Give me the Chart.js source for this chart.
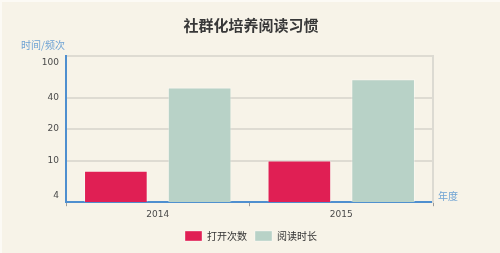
<!DOCTYPE html>
<html>
<head>
<meta charset="utf-8">
<script src="https://cdn.jsdelivr.net/npm/chart.js@4/dist/chart.umd.min.js"></script>
<style>
  html, body { margin: 0; padding: 0; background: #f7f3e8; }
  #wrap { position: relative; width: 500px; height: 253px; box-sizing: border-box;
          border-top: 2px solid #fcfaf5; border-left: 2px solid #fcfaf5; }
</style>
</head>
<body>
<div id="wrap"><canvas id="readingChart"></canvas></div>
<script>
// 数据
const years = ['2014', '2015'];
const openCounts = [8, 10];      // 打开次数
const readTimes = [50, 60];      // 阅读时长
const yTicks = [4, 10, 20, 40, 100];

const CJK = '"Noto Sans CJK SC", "Noto Sans", sans-serif';
const axisBlue = '#4f8fcf';

// 坐标轴名称
const axisNames = {
    id: 'axisNames',
    afterDraw(chart) {
        const { ctx, chartArea } = chart;
        ctx.save();
        ctx.font = '10px ' + CJK;
        ctx.fillStyle = '#6fa3d4';
        ctx.textBaseline = 'middle';
        ctx.textAlign = 'left';
        ctx.fillText('时间/频次', chartArea.left - 45, chartArea.top - 11);
        ctx.fillText('年度', chartArea.right + 5, chartArea.bottom - 6);
        ctx.restore();
    }
};

new Chart(document.getElementById('readingChart'), {
    type: 'bar',
    data: {
        labels: years,
        datasets: [{
            label: '打开次数',
            data: openCounts,
            backgroundColor: '#e01f54',
            borderColor: 'rgba(255,255,255,0.35)',
            borderWidth: 1
        }, {
            label: '阅读时长',
            data: readTimes,
            backgroundColor: '#b8d2c7',
            borderColor: 'rgba(255,255,255,0.35)',
            borderWidth: 1
        }]
    },
    options: {
        responsive: true,
        maintainAspectRatio: false,
        animation: false,
        categoryPercentage: 0.913,
        barPercentage: 0.76,
        layout: { padding: { bottom: 2 } },
        scales: {
            x: {
                grid: { drawOnChartArea: false, tickLength: 4, tickColor: '#9a9a9a', tickWidth: 1 },
                border: { color: axisBlue, width: 2 },
                ticks: { color: '#4a4a4a', padding: 3, font: { family: 'DejaVu Sans', size: 9 } }
            },
            y: {
                type: 'logarithmic',
                min: 4,
                max: 100,
                afterBuildTicks: (scale) => { scale.ticks = yTicks.map(v => ({ value: v })); },
                afterFit: (scale) => { scale.width = 64; },
                grid: { color: (c) => c.tick && c.tick.value === 4 ? 'transparent' : '#dedbd2', lineWidth: 2, drawTicks: false },
                border: { color: axisBlue, width: 2 },
                ticks: {
                    color: '#4a4a4a',
                    padding: 7,
                    font: { family: 'DejaVu Sans', size: 9, lineHeight: 1.5 },
                    callback: (v) => v === 100 ? ['', '100'] : v === 4 ? ['4', ''] : String(v)
                }
            },
            y2: {
                position: 'right',
                grid: { display: false },
                ticks: { display: false },
                border: { color: '#dcdad2', width: 2 },
                afterFit: (scale) => { scale.width = 67; }
            }
        },
        plugins: {
            title: {
                display: true,
                text: '社群化培养阅读习惯',
                color: '#383838',
                font: { family: CJK, size: 15, weight: 'bold' },
                padding: { top: 14, bottom: 22 }
            },
            legend: {
                position: 'bottom',
                labels: {
                    boxWidth: 17,
                    boxHeight: 10,
                    useBorderRadius: true,
                    padding: 8,
                    color: '#333',
                    font: { family: CJK, size: 10 }
                }
            },
            tooltip: { enabled: false }
        }
    },
    plugins: [axisNames]
});
</script>
</body>
</html>
